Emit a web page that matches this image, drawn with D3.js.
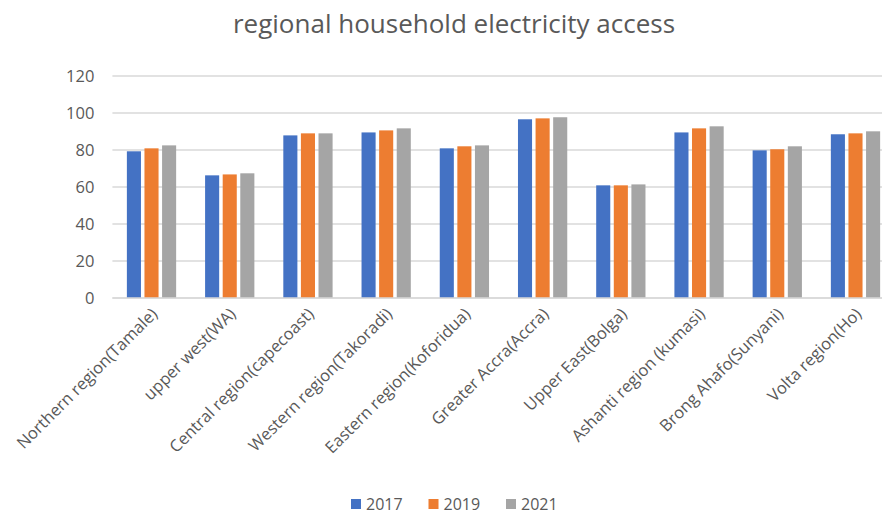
<!DOCTYPE html>
<html>
<head>
<meta charset="utf-8">
<script src="https://cdn.jsdelivr.net/npm/d3@7"></script>
<style>
  body { margin: 0; background: #fff; }
  svg { display: block; font-family: "Open Sans", "Noto Sans", sans-serif; }
</style>
</head>
<body>
<div id="chart"></div>
<script>
// regions along the x axis
const regions = [
    "Northern region(Tamale)", "upper west(WA)", "Central region(capecoast)",
    "Western region(Takoradi)", "Eastern region(Koforidua)", "Greater Accra(Accra)",
    "Upper East(Bolga)", "Ashanti region (kumasi)", "Brong Ahafo(Sunyani)", "Volta region(Ho)"
]
const years = ["2017", "2019", "2021"]
const access2017 = [79.3, 66.3, 87.9, 89.5, 80.9, 96.6, 60.9, 89.5, 79.8, 88.5]
const access2019 = [80.9, 66.8, 89.0, 90.6, 82.0, 97.1, 60.9, 91.7, 80.4, 89.0]
const access2021 = [82.5, 67.4, 89.0, 91.7, 82.5, 97.7, 61.4, 92.8, 82.0, 90.1]
const yTicks = [0, 20, 40, 60, 80, 100, 120]

const colors = {"2017": "#4472C4", "2019": "#ED7D31", "2021": "#A5A5A5"}
const seriesValues = {"2017": access2017, "2019": access2019, "2021": access2021}

const rows = regions.map((r, i) => {
    const row = {region: r}
    years.forEach(y => row[y] = seriesValues[y][i])
    return row
})

var W = 882, H = 515
// plot area runs a bit past the right edge, like the cropped original
var margin = {top: 76, left: 112.4, right: -12.6, bottom: 217}

var svg = d3.select("#chart").append("svg")
    .attr("width", W)
    .attr("height", H)

var x = d3.scaleBand()
    .domain(regions)
    .range([margin.left, W - margin.right])
    .paddingInner(0.37)
    .paddingOuter(0.185)

var xInner = d3.scaleBand()
    .domain(years)
    .range([0, x.bandwidth()])
    .paddingInner(0.2)

var y = d3.scaleLinear()
    .domain([0, 120])
    .range([H - margin.bottom, margin.top])

// gridlines
svg.append("g")
    .selectAll("line")
    .data(yTicks)
    .enter()
    .append("line")
    .attr("x1", margin.left)
    .attr("x2", W - margin.right)
    .attr("y1", d => y(d))
    .attr("y2", d => y(d))
    .attr("stroke", "#d9d9d9")
    .attr("stroke-width", 1.3)

// y axis labels
var yAxis = svg.append("g")
    .attr("transform", "translate(" + (margin.left - 6) + ",0)")
    .call(d3.axisLeft(y).tickValues(yTicks).tickSize(0).tickPadding(12))
yAxis.select(".domain").remove()
yAxis.selectAll("text")
    .attr("fill", "#595959")
    .style("font-size", "16.5px")
    .style("font-family", "'Open Sans', sans-serif")

// bars
svg.append("g")
    .selectAll("g")
    .data(rows)
    .enter()
    .append("g")
    .attr("transform", d => "translate(" + x(d.region) + ",0)")
    .selectAll("rect")
    .data(d => years.map(k => ({key: k, value: d[k]})))
    .enter()
    .append("rect")
    .attr("x", d => xInner(d.key))
    .attr("width", xInner.bandwidth())
    .attr("y", d => y(d.value))
    .attr("height", d => y(0) - y(d.value))
    .attr("fill", d => colors[d.key])

// baseline
svg.append("line")
    .attr("x1", margin.left)
    .attr("x2", W - margin.right)
    .attr("y1", y(0))
    .attr("y2", y(0))
    .attr("stroke", "#d9d9d9")
    .attr("stroke-width", 1.3)

// x axis labels, rotated
var xAxis = svg.append("g")
    .attr("transform", "translate(0," + y(0) + ")")
    .call(d3.axisBottom(x).tickSize(0).tickPadding(0))
xAxis.select(".domain").remove()
xAxis.selectAll("text")
    .attr("fill", "#595959")
    .style("font-size", "16.5px")
    .style("font-family", "'Open Sans', sans-serif")
    .attr("text-anchor", "end")
    .attr("dy", null)
    .attr("transform", "translate(7,17) rotate(-45)")

// title
svg.append("text")
    .attr("x", 454)
    .attr("y", 33)
    .attr("text-anchor", "middle")
    .attr("fill", "#595959")
    .style("font-size", "26px")
    .text("regional household electricity access")

// legend
var legend = svg.append("g")
    .selectAll("g")
    .data(years)
    .enter()
    .append("g")
    .attr("transform", (d, i) => "translate(" + (351 + i * 77.5) + ",499)")
legend.append("rect")
    .attr("width", 10)
    .attr("height", 10)
    .attr("fill", d => colors[d])
legend.append("text")
    .attr("x", 15)
    .attr("y", 10.5)
    .attr("fill", "#595959")
    .style("font-size", "16px")
    .text(d => d)
</script>
</body>
</html>
